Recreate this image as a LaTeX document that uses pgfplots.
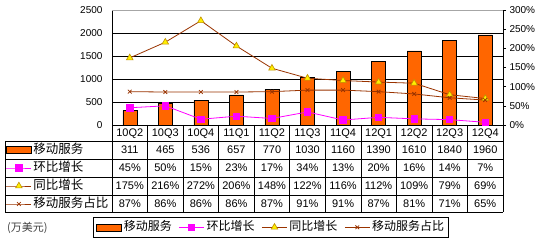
\documentclass[border=0pt]{standalone}
\usepackage{pgfplots}
\pgfplotsset{compat=1.18}
\usepackage{fontspec}
\setmainfont{Liberation Sans}
\newfontfamily\cjk{Noto Sans CJK SC}
\definecolor{barorange}{HTML}{FF6600}
\definecolor{mag}{HTML}{FF00FF}
\definecolor{brn}{HTML}{993300}
\definecolor{yel}{HTML}{FFEE00}
\definecolor{yeledge}{HTML}{C09000}
\pgfplotsset{
  linelegend/.style={legend image code/.code={\draw[mark repeat=2,mark phase=2] plot coordinates {(0pt,0pt) (12.5pt,0pt) (25pt,0pt)};}},
  barlegend/.style={legend image code/.code={\draw[fill=barorange,draw=black,line width=0.5pt] (0pt,-3.5pt) rectangle (25pt,3.5pt);}},
  sA/.style={linelegend, color=mag, line width=0.8pt, mark=square*, mark size=3.2pt, mark options={fill=mag, draw=mag, solid}},
  sB/.style={linelegend, color=brn, line width=0.8pt, mark=triangle*, mark size=3.8pt, mark options={fill=yel, draw=yeledge, solid, line width=0.6pt}},
  sC/.style={linelegend, color=brn, line width=0.8pt, mark=x, mark size=2.6pt, mark options={draw=brn, solid}},
}
\begin{document}
\begin{tikzpicture}[x=1pt,y=1pt]
\useasboundingbox (0,0) rectangle (538,240);
% ---- bars, left axis
\begin{axis}[
  at={(112pt,115pt)}, anchor=south west, scale only axis,
  width=391pt, height=115pt,
  xmin=0.5, xmax=11.5, ymin=0, ymax=2500,
  axis x line*=bottom, axis y line*=left,
  axis line style={black, line width=0.6pt},
  ytick={0,500,...,2500}, ymajorgrids, grid style={black, line width=0.6pt},
  xtick={1,...,11},
  xticklabels={10Q2,10Q3,10Q4,11Q1,11Q2,11Q3,11Q4,12Q1,12Q2,12Q3,12Q4},
  major tick length=0pt,
  scaled y ticks=false,
  /pgf/number format/assume math mode=true,
  /pgf/number format/1000 sep={},
  xticklabel style={font=\fontsize{11}{12}\selectfont},
  yticklabel style={font=\fontsize{10}{12}\selectfont, xshift=-6pt},
  ybar, bar width=14pt,
]
\addplot[fill=barorange, draw=black, line width=0.5pt] coordinates {
 (1,311) (2,465) (3,536) (4,657) (5,770) (6,1030) (7,1160) (8,1390) (9,1610) (10,1840) (11,1960)};
\end{axis}
% ---- lines, right axis
\begin{axis}[
  at={(112pt,115pt)}, anchor=south west, scale only axis,
  width=391pt, height=115pt,
  xmin=0.5, xmax=11.5, ymin=0, ymax=300,
  axis y line*=right, axis x line*=top,
  x axis line style={gray!70, line width=0.6pt},
  y axis line style={black, line width=0.6pt},
  xtick=\empty,
  ytick={0,50,...,300},
  yticklabel={\pgfmathprintnumber{\tick}\%},
  tick align=outside, major tick length=3pt,
  tick style={black, line width=0.6pt},
  /pgf/number format/assume math mode=true,
  yticklabel style={font=\fontsize{10}{12}\selectfont, xshift=0pt},
  legend style={at={(-0.0486,-0.8)}, anchor=north west, draw=black, line width=0.6pt,
    inner sep=3pt, font=\cjk\fontsize{12}{14}\selectfont,
    nodes={inner sep=1pt, text height=9.5pt, text depth=2.5pt},
    /tikz/every odd column/.append style={column sep=1pt},
    /tikz/every even column/.append style={column sep=6pt}},
  legend columns=4,
]
\addlegendimage{barlegend}
\addlegendentry{移动服务}
\addplot[sA] coordinates {
 (1,45) (2,50) (3,15) (4,23) (5,17) (6,34) (7,13) (8,20) (9,16) (10,14) (11,7)};
\addlegendentry{环比增长}
\addplot[sB] coordinates {
 (1,175) (2,216) (3,272) (4,206) (5,148) (6,122) (7,116) (8,112) (9,109) (10,79) (11,69)};
\addlegendentry{同比增长}
\addplot[sC] coordinates {
 (1,87) (2,86) (3,86) (4,86) (5,87) (6,91) (7,91) (8,87) (9,81) (10,71) (11,65)};
\addlegendentry{移动服务占比}
\end{axis}
% ---- table row labels (legend keys)
\begin{axis}[
  at={(6pt,28pt)}, anchor=south west, scale only axis,
  width=100pt, height=71pt, hide axis,
  xmin=0, xmax=1, ymin=0, ymax=1,
  legend style={at={(0,1)}, anchor=north west, draw=none, fill=none,
    inner sep=0pt, outer sep=0pt, font=\cjk\fontsize{12.5}{14}\selectfont,
    nodes={inner sep=0pt, text height=13pt, text depth=5pt},
    /tikz/every odd column/.append style={column sep=1.5pt}},
  legend cell align=left,
]
\addlegendimage{barlegend}
\addlegendentry{移动服务}
\addlegendimage{sA}
\addlegendentry{环比增长}
\addlegendimage{sB}
\addlegendentry{同比增长}
\addlegendimage{sC}
\addlegendentry{移动服务占比}
\end{axis}
% ---- table grid
\begin{scope}[line width=0.6pt]
\foreach \k in {0,...,11} { \draw (112+\k*35.5455,115) -- (112+\k*35.5455,28); }
\foreach \yy in {99,81,63,45,28} { \draw (5,\yy) -- (503,\yy); }
\draw (5,99) -- (5,28);
\end{scope}
% ---- table values
\begin{scope}[every node/.style={anchor=base, font=\fontsize{11}{12}\selectfont, inner sep=0pt}]
\foreach \v [count=\i] in {311,465,536,657,770,1030,1160,1390,1610,1840,1960}
  { \node at (112+\i*35.5455-17.77,86.5) {\v}; }
\foreach \v [count=\i] in {45,50,15,23,17,34,13,20,16,14,7}
  { \node at (112+\i*35.5455-17.77,68) {\v\%}; }
\foreach \v [count=\i] in {175,216,272,206,148,122,116,112,109,79,69}
  { \node at (112+\i*35.5455-17.77,50) {\v\%}; }
\foreach \v [count=\i] in {87,86,86,86,87,91,91,87,81,71,65}
  { \node at (112+\i*35.5455-17.77,32.5) {\v\%}; }
\end{scope}
\node[anchor=west, inner sep=0pt, text=black!75, font=\cjk\fontsize{11}{12}\selectfont] at (7,12) {(万美元)};
\end{tikzpicture}
\end{document}
